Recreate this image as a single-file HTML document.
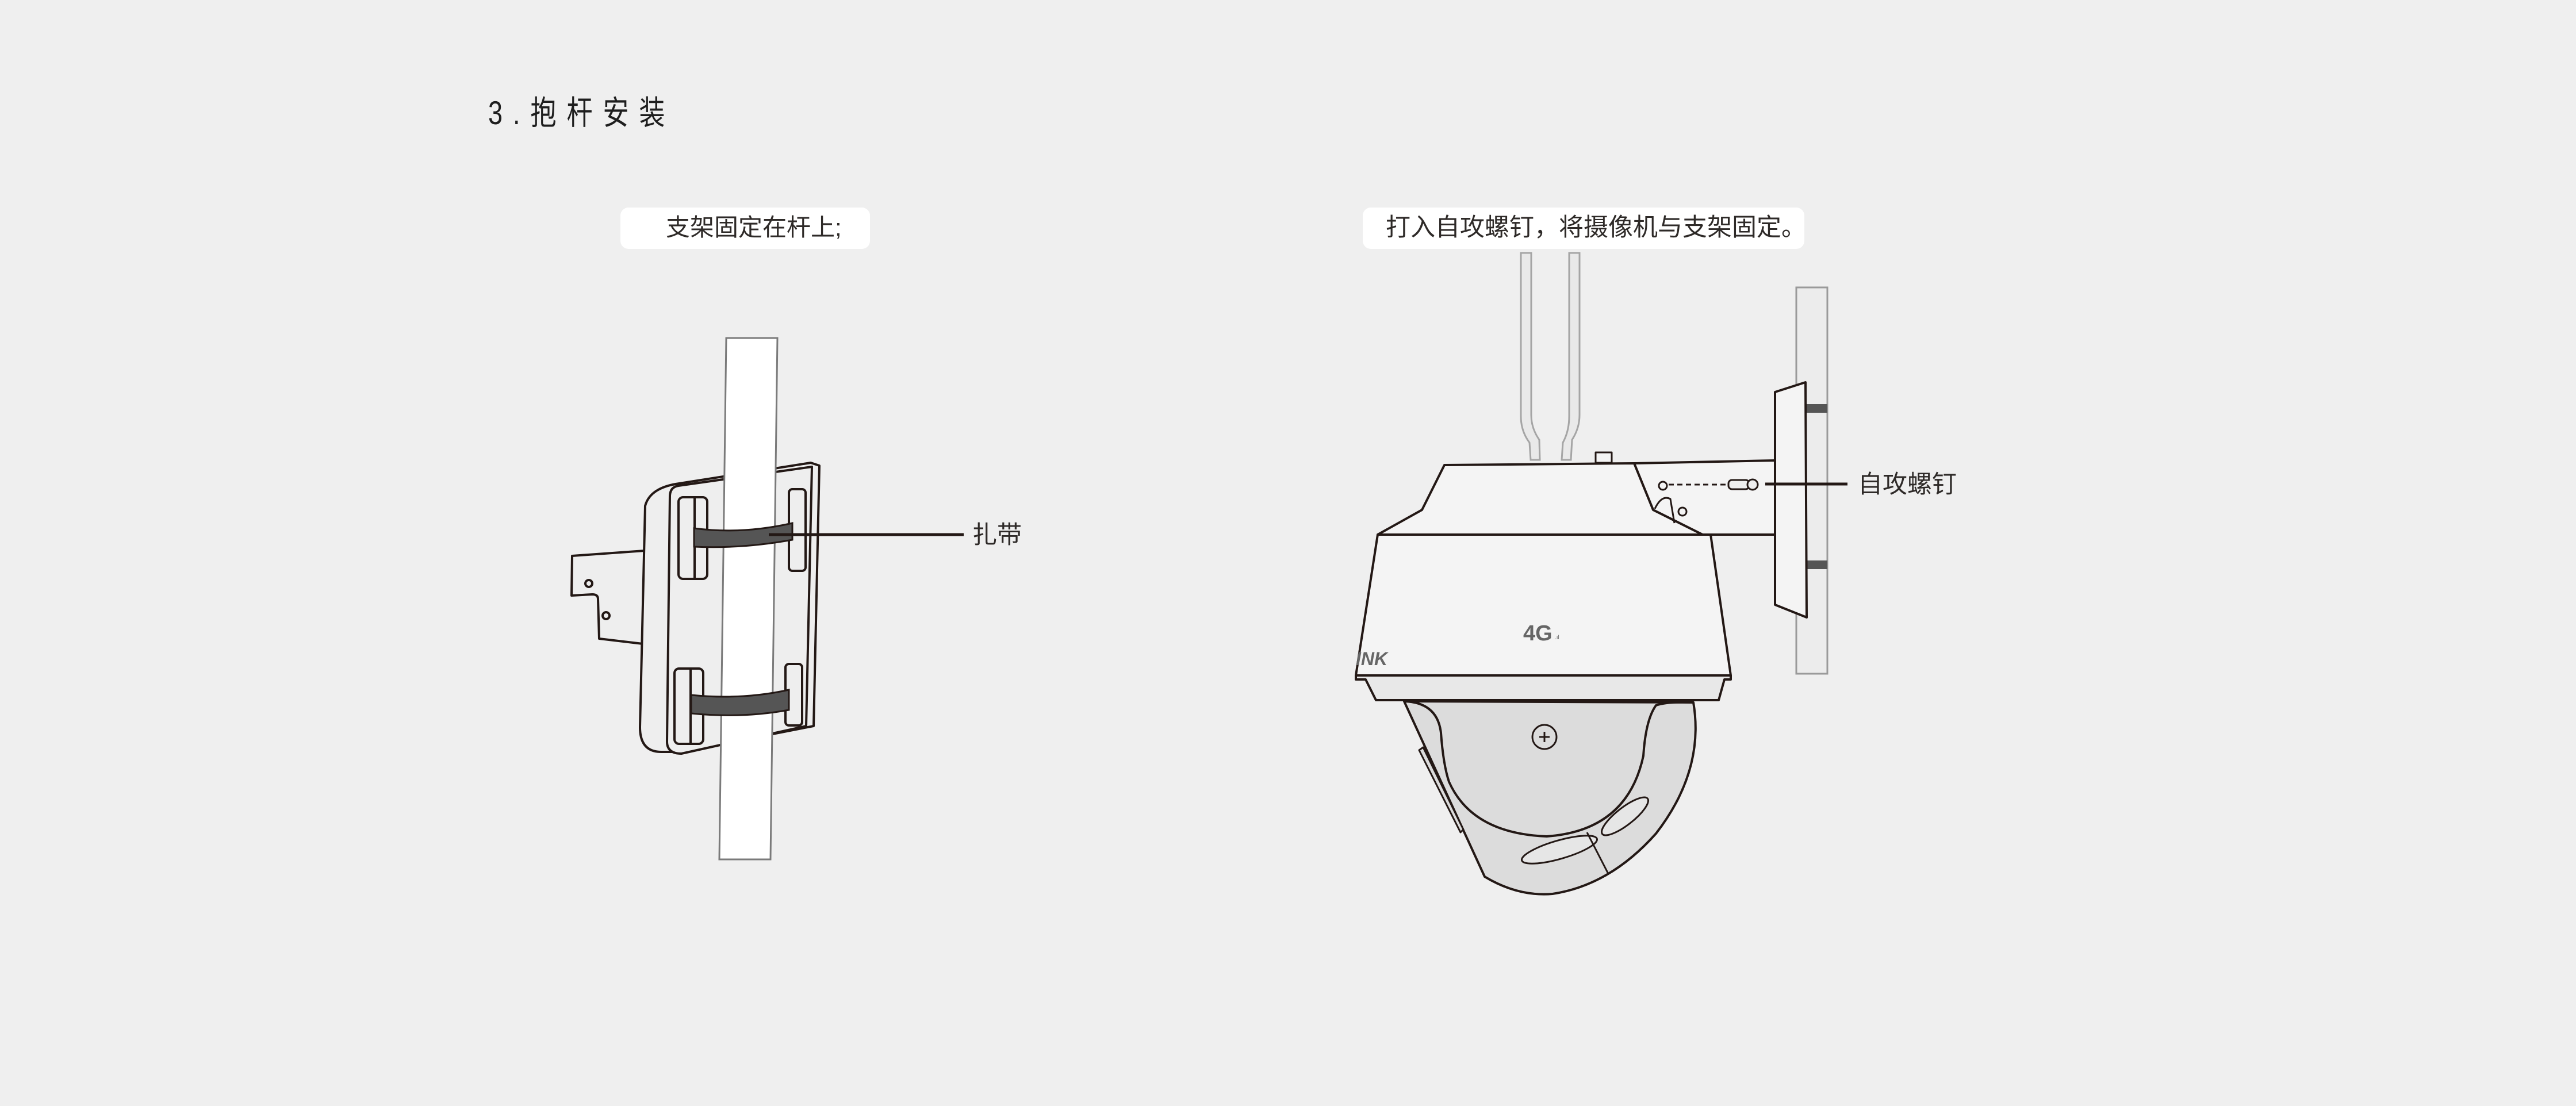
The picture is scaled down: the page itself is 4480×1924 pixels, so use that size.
<!DOCTYPE html>
<html><head><meta charset="utf-8"><style>
html,body{margin:0;padding:0;background:#efefef;}
body{width:4480px;height:1924px;overflow:hidden;position:relative;}
</style></head><body>
<svg width="4480" height="1924" viewBox="0 0 4480 1924" xmlns="http://www.w3.org/2000/svg" style="position:absolute;left:0;top:0">
<rect width="4480" height="1924" fill="#efefef"/>
<text x="0" y="0" transform="translate(849 216) scale(0.9 1.15)" font-family="Liberation Sans, Noto Sans CJK SC, sans-serif" font-size="50" fill="#1e1e1e" letter-spacing="20">3.抱杆安装</text>
<rect x="1079" y="361" width="434" height="72" rx="14" fill="#ffffff"/>
<text x="1158" y="410" font-family="Liberation Sans, Noto Sans CJK SC, sans-serif" font-size="42" fill="#2e2a28">支架固定在杆上;</text>
<rect x="2370" y="361" width="768" height="72" rx="14" fill="#ffffff"/>
<text x="2410" y="410" font-family="Liberation Sans, Noto Sans CJK SC, sans-serif" font-size="43" fill="#2e2a28">打入自攻螺钉，将摄像机与支架固定。</text>

<g stroke="#231815" stroke-width="4" stroke-linejoin="round" fill="#eeeeee">
<path d="M995,967 L1121,958 L1118,1120 L1042,1111 L1040,1042 Q1040,1034 1030,1034 L994,1036 Z"/>
<circle cx="1024" cy="1015" r="6"/><circle cx="1054" cy="1071" r="6"/>
<path d="M1122,880 Q1130,850 1175,842 L1410,805 L1425,810 L1415,1263 L1185,1308 L1150,1308 Q1113,1308 1113,1265 Z"/>
<path d="M1180,845 L1412,812 L1402,1263 L1185,1311 Q1160,1311 1160,1290 L1165,862 Q1166,847 1180,845 Z"/>
<rect x="1180" y="865" width="50" height="142" rx="8"/><line x1="1208" y1="867" x2="1208" y2="1005"/>
<rect x="1372" y="851" width="29" height="142" rx="6"/>
<rect x="1173" y="1163" width="50" height="131" rx="8"/><line x1="1201" y1="1165" x2="1201" y2="1292"/>
<rect x="1366" y="1155" width="29" height="107" rx="6"/>
</g>
<polygon points="1263,588 1352,588 1340,1495 1251,1495" fill="#ffffff" stroke="#7a7a7a" stroke-width="3"/>
<g stroke="#231815" stroke-width="3" fill="#555555">
<path d="M1207,919 Q1290,930 1378,910 L1378,939 Q1290,955 1207,951 Z"/>
<path d="M1202,1209 Q1290,1218 1372,1200 L1372,1235 Q1290,1250 1202,1241 Z"/>
</g>
<line x1="1337" y1="930" x2="1676" y2="930" stroke="#231815" stroke-width="5"/>
<text x="1691" y="945" font-family="Liberation Sans, Noto Sans CJK SC, sans-serif" font-size="43" fill="#2e2a28">扎带</text>

<rect x="3124" y="500" width="54" height="672" fill="#ececec" stroke="#9a9a9a" stroke-width="3"/>
<rect x="3142" y="703" width="36" height="15" fill="#555"/>
<rect x="3142" y="975" width="36" height="15" fill="#555"/>
<g fill="#e9e9e9" stroke="#a5a5a5" stroke-width="3">
<path d="M2645,440 L2645,724 Q2645,750 2660,770 L2662,800 L2678,800 L2677,765 Q2663,745 2663,722 L2663,440 Z"/>
<path d="M2729,440 L2729,724 Q2729,750 2718,770 L2716,800 L2732,800 L2734,765 Q2747,745 2747,722 L2747,440 Z"/>
</g>
<g stroke="#231815" stroke-width="4" stroke-linejoin="round">
<path d="M2842,806 L3087,801 L3087,930 L2961,930 L2875,887 Z" fill="#f4f4f4"/>
<path d="M3087,682 L3140,665 L3142,1074 L3087,1052 Z" fill="#f4f4f4"/>
<rect x="2775" y="787" width="28" height="18" fill="#f4f4f4" stroke-width="3"/>
<path d="M2512,809 L2842,806 L2875,887 L2961,930 L2396,930 L2473,887 Z" fill="#f4f4f4"/>
<path d="M2878,885 Q2890,860 2905,868 L2912,910" fill="none" stroke-width="3"/>
<circle cx="2892" cy="845" r="7" fill="#f4f4f4" stroke-width="3"/>
<circle cx="2926" cy="890" r="7" fill="#f4f4f4" stroke-width="3"/>
<path d="M2396,930 L2975,930 L3010,1175 L2358,1175 Z" fill="#f4f4f4"/>
<path d="M2358,1175 L3010,1175 L3010,1182 L2999,1182 L2989,1218 L2393,1218 L2375,1182 L2358,1182 Z" fill="#e8e8e8"/>
<path d="M2442,1220 L2582,1525 Q2640,1560 2700,1555 Q2800,1540 2880,1450 Q2965,1340 2945,1222 Z" fill="#dcdcdc"/>
<path d="M2442,1220 Q2500,1222 2506,1275 Q2510,1330 2520,1360 Q2560,1450 2690,1455 Q2830,1445 2858,1315 Q2862,1252 2880,1227 Q2900,1220 2945,1222" fill="none"/>
<path d="M2468,1305 L2475,1300 L2545,1443 L2540,1448 Z" fill="#dcdcdc" stroke-width="3"/>
<circle cx="2686" cy="1282" r="21" fill="none" stroke-width="3"/>
<line x1="2686" y1="1273" x2="2686" y2="1291" stroke-width="3"/><line x1="2677" y1="1282" x2="2695" y2="1282" stroke-width="3"/>
<ellipse cx="2712" cy="1478" rx="68" ry="16" transform="rotate(-16 2712 1478)" fill="#e6e6e6" stroke-width="3"/>
<ellipse cx="2826" cy="1420" rx="50" ry="15" transform="rotate(-38 2826 1420)" fill="#e6e6e6" stroke-width="3"/>
<line x1="2760" y1="1448" x2="2797" y2="1520" stroke-width="3"/>
</g>
<text x="2649" y="1114" font-family="Liberation Sans, sans-serif" font-weight="bold" font-size="38" fill="#666">4G</text>
<text x="2704" y="1112" font-family="Liberation Sans, sans-serif" font-size="10" fill="#666">.ıl</text>
<text x="2358" y="1157" font-family="Liberation Sans, sans-serif" font-weight="bold" font-style="italic" font-size="32" fill="#666">INK</text>
<line x1="2902" y1="843" x2="3004" y2="843" stroke="#231815" stroke-width="3" stroke-dasharray="9,6"/>
<rect x="3006" y="835" width="36" height="16" rx="6" fill="#eee" stroke="#231815" stroke-width="3"/>
<circle cx="3048" cy="843" r="9" fill="#eee" stroke="#231815" stroke-width="3"/>
<line x1="3070" y1="842" x2="3213" y2="842" stroke="#231815" stroke-width="5"/>
<text x="3231" y="857" font-family="Liberation Sans, Noto Sans CJK SC, sans-serif" font-size="43" fill="#2e2a28">自攻螺钉</text>
</svg>
</body></html>
